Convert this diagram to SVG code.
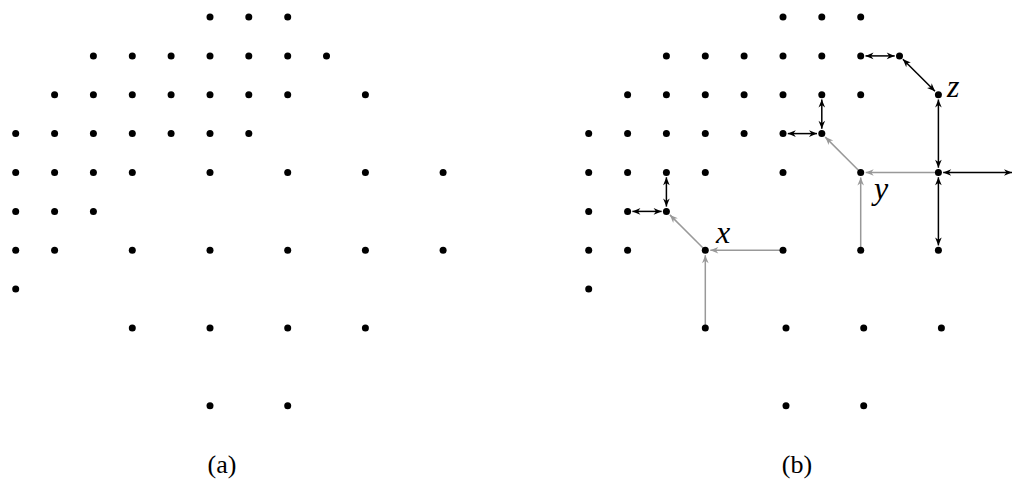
<svg xmlns="http://www.w3.org/2000/svg" width="1014" height="479" viewBox="0 0 1014 479">
  <style>
    .dot circle { fill: #000; }
    .blk { stroke: #000; stroke-width: 1.5; fill: none; marker-start: url(#hb); marker-end: url(#hb); }
    .gry { stroke: #999; stroke-width: 1.5; fill: none; marker-end: url(#hg); }
    .lab { font-style: italic; font-size: 32px; fill: #000; }
    .cap { font-size: 26px; fill: #000; text-anchor: middle; }
  </style>
  <defs>
    <!-- stealth-style arrowheads, tip at the path end -->
    <marker id="hb" viewBox="-9 -5 10 10" refX="0" refY="0" markerWidth="10" markerHeight="10" markerUnits="userSpaceOnUse" orient="auto-start-reverse">
      <path d="M0,0 L-8,-3.3 L-5.6,0 L-8,3.3 Z" fill="#000"/>
    </marker>
    <marker id="hg" viewBox="-9 -5 10 10" refX="0" refY="0" markerWidth="10" markerHeight="10" markerUnits="userSpaceOnUse" orient="auto">
      <path d="M0,0 L-8,-3.3 L-5.6,0 L-8,3.3 Z" fill="#999"/>
    </marker>
  </defs>

  <!-- connectors of panel (b) -->
  <g id="connectors">
    <line class="gry" x1="705.3" y1="328" x2="705.3" y2="255.2"/>
    <line class="gry" x1="783" y1="250.2" x2="710.3" y2="250.2"/>
    <line class="gry" x1="705.3" y1="250.2" x2="669.9" y2="214.9"/>
    <line class="gry" x1="860.7" y1="250.2" x2="860.7" y2="177.5"/>
    <line class="gry" x1="938.4" y1="172.5" x2="865.7" y2="172.5"/>
    <line class="gry" x1="860.7" y1="172.5" x2="825.3" y2="137.1"/>

    <line class="blk" x1="632.4" y1="211.4" x2="661.6" y2="211.4"/>
    <line class="blk" x1="666.4" y1="177.3" x2="666.4" y2="206.6"/>
    <line class="blk" x1="787.8" y1="133.6" x2="817" y2="133.6"/>
    <line class="blk" x1="821.8" y1="99.5" x2="821.8" y2="128.8"/>
    <line class="blk" x1="865.5" y1="55.9" x2="894.7" y2="55.9"/>
    <line class="blk" x1="902.9" y1="59.3" x2="935" y2="91.3"/>
    <line class="blk" x1="938.4" y1="99.5" x2="938.4" y2="167.7"/>
    <line class="blk" x1="938.4" y1="177.3" x2="938.4" y2="245.4"/>
    <line class="blk" x1="943.2" y1="172.5" x2="1012" y2="172.5"/>
  </g>

  <!-- panel (a) lattice points -->
  <g id="panel-a">
    <g id="a-0-5" class="dot"><circle cx="210" cy="17" r="3.5"/></g>
    <g id="a-0-6" class="dot"><circle cx="248.8" cy="17" r="3.5"/></g>
    <g id="a-0-7" class="dot"><circle cx="287.7" cy="17" r="3.5"/></g>

    <g id="a-1-2" class="dot"><circle cx="93.4" cy="55.9" r="3.5"/></g>
    <g id="a-1-3" class="dot"><circle cx="132.3" cy="55.9" r="3.5"/></g>
    <g id="a-1-4" class="dot"><circle cx="171.1" cy="55.9" r="3.5"/></g>
    <g id="a-1-5" class="dot"><circle cx="210" cy="55.9" r="3.5"/></g>
    <g id="a-1-6" class="dot"><circle cx="248.8" cy="55.9" r="3.5"/></g>
    <g id="a-1-7" class="dot"><circle cx="287.7" cy="55.9" r="3.5"/></g>
    <g id="a-1-8" class="dot"><circle cx="326.5" cy="55.9" r="3.5"/></g>

    <g id="a-2-1" class="dot"><circle cx="54.6" cy="94.7" r="3.5"/></g>
    <g id="a-2-2" class="dot"><circle cx="93.4" cy="94.7" r="3.5"/></g>
    <g id="a-2-3" class="dot"><circle cx="132.3" cy="94.7" r="3.5"/></g>
    <g id="a-2-4" class="dot"><circle cx="171.1" cy="94.7" r="3.5"/></g>
    <g id="a-2-5" class="dot"><circle cx="210" cy="94.7" r="3.5"/></g>
    <g id="a-2-6" class="dot"><circle cx="248.8" cy="94.7" r="3.5"/></g>
    <g id="a-2-7" class="dot"><circle cx="287.7" cy="94.7" r="3.5"/></g>
    <g id="a-2-9" class="dot"><circle cx="365.4" cy="94.7" r="3.5"/></g>

    <g id="a-3-0" class="dot"><circle cx="15.7" cy="133.6" r="3.5"/></g>
    <g id="a-3-1" class="dot"><circle cx="54.6" cy="133.6" r="3.5"/></g>
    <g id="a-3-2" class="dot"><circle cx="93.4" cy="133.6" r="3.5"/></g>
    <g id="a-3-3" class="dot"><circle cx="132.3" cy="133.6" r="3.5"/></g>
    <g id="a-3-4" class="dot"><circle cx="171.1" cy="133.6" r="3.5"/></g>
    <g id="a-3-5" class="dot"><circle cx="210" cy="133.6" r="3.5"/></g>
    <g id="a-3-6" class="dot"><circle cx="248.8" cy="133.6" r="3.5"/></g>

    <g id="a-4-0" class="dot"><circle cx="15.7" cy="172.5" r="3.5"/></g>
    <g id="a-4-1" class="dot"><circle cx="54.6" cy="172.5" r="3.5"/></g>
    <g id="a-4-2" class="dot"><circle cx="93.4" cy="172.5" r="3.5"/></g>
    <g id="a-4-3" class="dot"><circle cx="132.3" cy="172.5" r="3.5"/></g>
    <g id="a-4-5" class="dot"><circle cx="210" cy="172.5" r="3.5"/></g>
    <g id="a-4-7" class="dot"><circle cx="287.7" cy="172.5" r="3.5"/></g>
    <g id="a-4-9" class="dot"><circle cx="365.4" cy="172.5" r="3.5"/></g>
    <g id="a-4-11" class="dot"><circle cx="443.1" cy="172.5" r="3.5"/></g>

    <g id="a-5-0" class="dot"><circle cx="15.7" cy="211.4" r="3.5"/></g>
    <g id="a-5-1" class="dot"><circle cx="54.6" cy="211.4" r="3.5"/></g>
    <g id="a-5-2" class="dot"><circle cx="93.4" cy="211.4" r="3.5"/></g>

    <g id="a-6-0" class="dot"><circle cx="15.7" cy="250.2" r="3.5"/></g>
    <g id="a-6-1" class="dot"><circle cx="54.6" cy="250.2" r="3.5"/></g>
    <g id="a-6-3" class="dot"><circle cx="132.3" cy="250.2" r="3.5"/></g>
    <g id="a-6-5" class="dot"><circle cx="210" cy="250.2" r="3.5"/></g>
    <g id="a-6-7" class="dot"><circle cx="287.7" cy="250.2" r="3.5"/></g>
    <g id="a-6-9" class="dot"><circle cx="365.4" cy="250.2" r="3.5"/></g>
    <g id="a-6-11" class="dot"><circle cx="443.1" cy="250.2" r="3.5"/></g>

    <g id="a-7-0" class="dot"><circle cx="15.7" cy="289.1" r="3.5"/></g>

    <g id="a-8-3" class="dot"><circle cx="132.3" cy="328" r="3.5"/></g>
    <g id="a-8-5" class="dot"><circle cx="210" cy="328" r="3.5"/></g>
    <g id="a-8-7" class="dot"><circle cx="287.7" cy="328" r="3.5"/></g>
    <g id="a-8-9" class="dot"><circle cx="365.4" cy="328" r="3.5"/></g>

    <g id="a-10-5" class="dot"><circle cx="210" cy="405.7" r="3.5"/></g>
    <g id="a-10-7" class="dot"><circle cx="287.7" cy="405.7" r="3.5"/></g>
  </g>

  <!-- panel (b) lattice points -->
  <g id="panel-b">
    <g id="b-0-5" class="dot"><circle cx="783" cy="17" r="3.5"/></g>
    <g id="b-0-6" class="dot"><circle cx="821.8" cy="17" r="3.5"/></g>
    <g id="b-0-7" class="dot"><circle cx="860.7" cy="17" r="3.5"/></g>

    <g id="b-1-2" class="dot"><circle cx="666.4" cy="55.9" r="3.5"/></g>
    <g id="b-1-3" class="dot"><circle cx="705.3" cy="55.9" r="3.5"/></g>
    <g id="b-1-4" class="dot"><circle cx="744.1" cy="55.9" r="3.5"/></g>
    <g id="b-1-5" class="dot"><circle cx="783" cy="55.9" r="3.5"/></g>
    <g id="b-1-6" class="dot"><circle cx="821.8" cy="55.9" r="3.5"/></g>
    <g id="b-1-7" class="dot"><circle cx="860.7" cy="55.9" r="3.5"/></g>
    <g id="b-1-8" class="dot"><circle cx="899.5" cy="55.9" r="3.5"/></g>

    <g id="b-2-1" class="dot"><circle cx="627.6" cy="94.7" r="3.5"/></g>
    <g id="b-2-2" class="dot"><circle cx="666.4" cy="94.7" r="3.5"/></g>
    <g id="b-2-3" class="dot"><circle cx="705.3" cy="94.7" r="3.5"/></g>
    <g id="b-2-4" class="dot"><circle cx="744.1" cy="94.7" r="3.5"/></g>
    <g id="b-2-5" class="dot"><circle cx="783" cy="94.7" r="3.5"/></g>
    <g id="b-2-6" class="dot"><circle cx="821.8" cy="94.7" r="3.5"/></g>
    <g id="b-2-7" class="dot"><circle cx="860.7" cy="94.7" r="3.5"/></g>
    <g id="b-z" class="dot"><circle cx="938.4" cy="94.7" r="3.5"/></g>

    <g id="b-3-0" class="dot"><circle cx="588.7" cy="133.6" r="3.5"/></g>
    <g id="b-3-1" class="dot"><circle cx="627.6" cy="133.6" r="3.5"/></g>
    <g id="b-3-2" class="dot"><circle cx="666.4" cy="133.6" r="3.5"/></g>
    <g id="b-3-3" class="dot"><circle cx="705.3" cy="133.6" r="3.5"/></g>
    <g id="b-3-4" class="dot"><circle cx="744.1" cy="133.6" r="3.5"/></g>
    <g id="b-3-5" class="dot"><circle cx="783" cy="133.6" r="3.5"/></g>
    <g id="b-3-6" class="dot"><circle cx="821.8" cy="133.6" r="3.5"/></g>

    <g id="b-4-0" class="dot"><circle cx="588.7" cy="172.5" r="3.5"/></g>
    <g id="b-4-1" class="dot"><circle cx="627.6" cy="172.5" r="3.5"/></g>
    <g id="b-4-2" class="dot"><circle cx="666.4" cy="172.5" r="3.5"/></g>
    <g id="b-4-3" class="dot"><circle cx="705.3" cy="172.5" r="3.5"/></g>
    <g id="b-4-5" class="dot"><circle cx="783" cy="172.5" r="3.5"/></g>
    <g id="b-y" class="dot"><circle cx="860.7" cy="172.5" r="3.5"/></g>
    <g id="b-4-9" class="dot"><circle cx="938.4" cy="172.5" r="3.5"/></g>

    <g id="b-5-0" class="dot"><circle cx="588.7" cy="211.4" r="3.5"/></g>
    <g id="b-5-1" class="dot"><circle cx="627.6" cy="211.4" r="3.5"/></g>
    <g id="b-5-2" class="dot"><circle cx="666.4" cy="211.4" r="3.5"/></g>

    <g id="b-6-0" class="dot"><circle cx="588.7" cy="250.2" r="3.5"/></g>
    <g id="b-6-1" class="dot"><circle cx="627.6" cy="250.2" r="3.5"/></g>
    <g id="b-x" class="dot"><circle cx="705.3" cy="250.2" r="3.5"/></g>
    <g id="b-6-5" class="dot"><circle cx="783" cy="250.2" r="3.5"/></g>
    <g id="b-6-7" class="dot"><circle cx="860.7" cy="250.2" r="3.5"/></g>
    <g id="b-6-9" class="dot"><circle cx="938.4" cy="250.2" r="3.5"/></g>

    <g id="b-7-0" class="dot"><circle cx="588.7" cy="289.1" r="3.5"/></g>

    <g id="b-8-3" class="dot"><circle cx="705.3" cy="328" r="3.5"/></g>
    <g id="b-8-5" class="dot"><circle cx="786" cy="328" r="3.5"/></g>
    <g id="b-8-7" class="dot"><circle cx="863.7" cy="328" r="3.5"/></g>
    <g id="b-8-9" class="dot"><circle cx="941.4" cy="328" r="3.5"/></g>

    <g id="b-10-5" class="dot"><circle cx="786" cy="405.7" r="3.5"/></g>
    <g id="b-10-7" class="dot"><circle cx="863.7" cy="405.7" r="3.5"/></g>
  </g>

  <!-- point labels -->
  <g id="labels" font-family="'Liberation Serif', 'DejaVu Serif', serif">
    <text class="lab" x="716" y="243">x</text>
    <text class="lab" x="874" y="199">y</text>
    <text class="lab" x="947" y="97">z</text>
  </g>

  <!-- captions -->
  <g id="captions" font-family="'Liberation Serif', 'DejaVu Serif', serif">
    <text class="cap" x="222" y="473">(a)</text>
    <text class="cap" x="797" y="473">(b)</text>
  </g>
</svg>
